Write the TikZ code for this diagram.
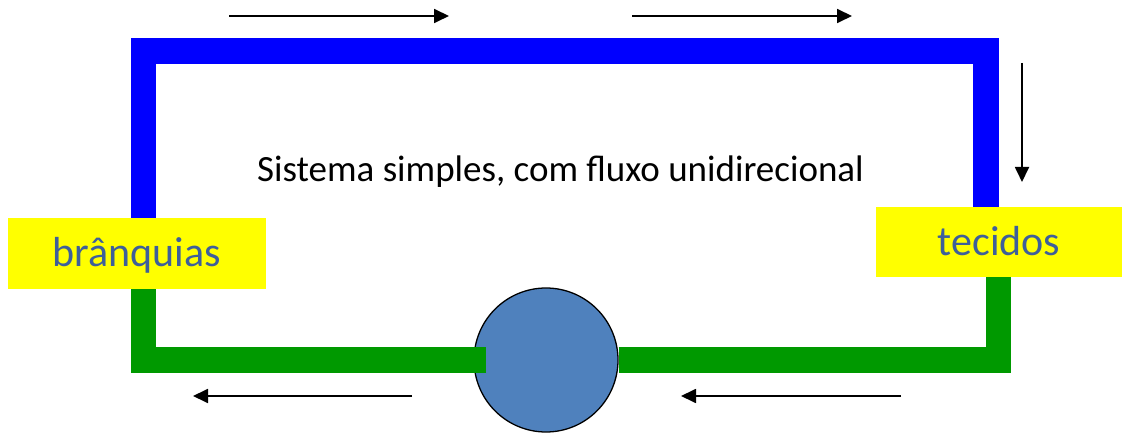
\documentclass[tikz,border=0pt]{standalone}
\usepackage{fontspec}
\setmainfont{Carlito}
\usetikzlibrary{arrows.meta}
\definecolor{pipeblue}{HTML}{0000FF}
\definecolor{pipegreen}{HTML}{009900}
\definecolor{boxyellow}{HTML}{FFFF00}
\definecolor{pumpblue}{HTML}{4F81BD}
\definecolor{labelblue}{HTML}{3E5F9A}
\tikzset{
  pipe/.style={line width=25.5pt, line join=miter},
  organ/.style={fill=boxyellow, draw=none, inner sep=0pt, text=labelblue,
    font=\fontsize{42}{50}\selectfont, text height=27pt, text depth=0pt},
  flow/.style={line width=1.8pt, -{Triangle[length=15pt,width=14pt]}},
  pump/.style={circle, draw=black, line width=1.3pt, fill=pumpblue, minimum size=144pt, inner sep=0pt}
}
\begin{document}
\begin{tikzpicture}[x=1pt,y=-1pt]
\useasboundingbox (0,0) rectangle (1124,435);
% organ boxes
\node[organ, minimum width=258pt, minimum height=71pt] (br) at (137,253.5) {brânquias};
\node[organ, minimum width=246pt, minimum height=70pt] (te) at (999,242) {tecidos};
\coordinate (bl) at (143.5,51);
\coordinate (tr) at (986,51);
\coordinate (gl) at (143.5,360);
\coordinate (gr) at (998.5,360);
\coordinate (gend) at (486,360);
% blue pipe
\draw[pipe, pipeblue] (bl |- br.north) -- (bl) -- (tr) -- (tr |- te.north);
% pump, right green pipe, left green pipe
\node[pump] (pu) at (546,360) {};
\draw[pipe, pipegreen] (pu.east) -- (gr) -- (gr |- te.south);
\draw[pipe, pipegreen] (gend) -- (gl) -- (gl |- br.south);
% caption
\node[anchor=base, inner sep=0pt, font=\fontsize{37}{44}\selectfont] (cap) at (560.5,182) {Sistema simples, com fluxo unidirecional};
% flow arrows
\coordinate (a1s) at (229,16); \coordinate (a1e) at (449,16);
\coordinate (a2s) at (632,16); \coordinate (a2e) at (852,16);
\coordinate (a3s) at (1022,63); \coordinate (a3e) at (1022,182);
\coordinate (a4s) at (412,396); \coordinate (a4e) at (193,396);
\coordinate (a5s) at (901,396); \coordinate (a5e) at (681,396);
\draw[flow] (a1s) -- (a1e);
\draw[flow] (a2s) -- (a2e);
\draw[flow] (a3s) -- (a3e);
\draw[flow] (a4s) -- (a4e);
\draw[flow] (a5s) -- (a5e);
\end{tikzpicture}
\end{document}
